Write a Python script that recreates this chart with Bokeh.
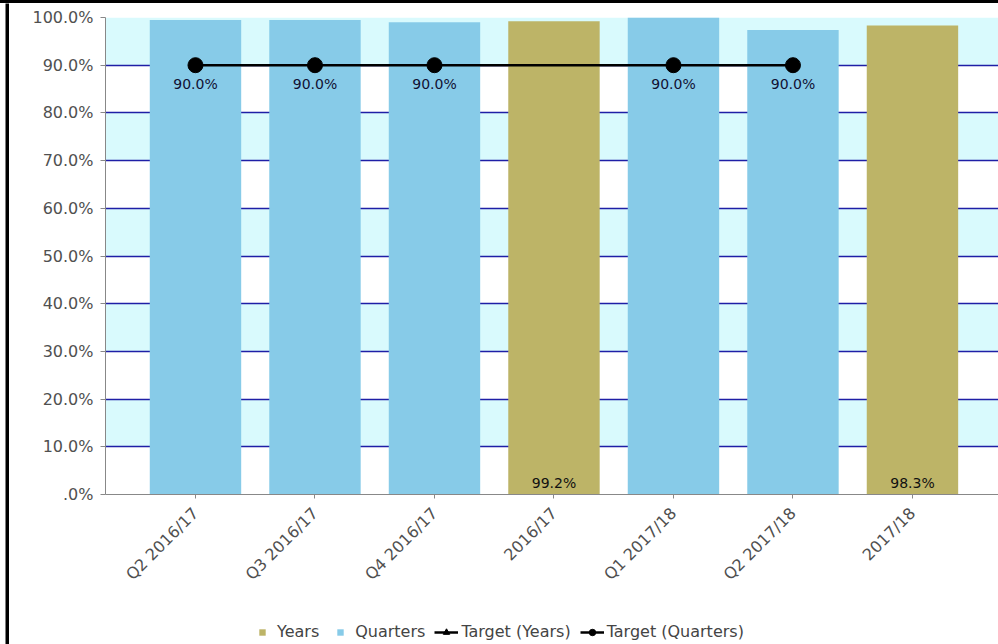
import numpy as np
from bokeh.plotting import figure
from bokeh.layouts import column, row
from bokeh.models import (ColumnDataSource, Range1d, FixedTicker, Legend, LegendItem, Spacer)
from bokeh.core.properties import value
from bokeh.embed import file_html
from bokeh.resources import INLINE

# ---------------- data ----------------
categories = ["Q2 2016/17", "Q3 2016/17", "Q4 2016/17", "2016/17",
              "Q1 2017/18", "Q2 2017/18", "2017/18"]
kinds = ["Quarters", "Quarters", "Quarters", "Years", "Quarters", "Quarters", "Years"]
values = [99.5, 99.5, 99.0, 99.2, 100.0, 97.4, 98.3]
targets = [90.0, 90.0, 90.0, None, 90.0, 90.0, None]
y_ticks = [0, 10, 20, 30, 40, 50, 60, 70, 80, 90, 100]
y_tick_labels = [".0%", "10.0%", "20.0%", "30.0%", "40.0%", "50.0%",
                 "60.0%", "70.0%", "80.0%", "90.0%", "100.0%"]
legend_labels = ["Years", "Quarters", "Target (Years)", "Target (Quarters)"]

COL_Q = "#87CBE8"
COL_Y = "#BDB467"
FONT = "DejaVu Sans"

xs = list(range(len(categories)))
q_idx = [i for i, k in enumerate(kinds) if k == "Quarters"]
y_idx = [i for i, k in enumerate(kinds) if k == "Years"]

src_q = ColumnDataSource(dict(x=[xs[i] for i in q_idx], top=[values[i] for i in q_idx]))
src_y = ColumnDataSource(dict(x=[xs[i] for i in y_idx], top=[values[i] for i in y_idx],
                              lab=["%.1f%%" % values[i] for i in y_idx],
                              base=[0] * len(y_idx)))
t_idx = [i for i, t in enumerate(targets) if t is not None]
src_t = ColumnDataSource(dict(x=[xs[i] for i in t_idx], y=[targets[i] for i in t_idx],
                              lab=["%.1f%%" % targets[i] for i in t_idx]))


def plain(w, h, color):
    f = figure(width=w, height=h, output_backend="svg", toolbar_location=None,
               x_axis_location=None, y_axis_location=None,
               min_border=0, x_range=Range1d(0, 1), y_range=Range1d(0, 1))
    f.grid.visible = False
    f.outline_line_color = None
    f.background_fill_color = color
    f.border_fill_color = color
    return f


# ---------------- main chart ----------------
p = figure(width=989, height=602, output_backend="svg", toolbar_location=None,
           x_range=Range1d(-0.753, 6.72), y_range=Range1d(0, 100),
           min_border_left=96, min_border_right=0, min_border_top=14,
           min_border_bottom=111)
p.outline_line_color = None
p.background_fill_color = "white"
p.border_fill_color = "white"

p.xgrid.grid_line_color = None
p.ygrid.ticker = FixedTicker(ticks=y_ticks)
p.ygrid.grid_line_color = "#1F1FA6"
p.ygrid.grid_line_width = 1.5
p.ygrid.band_fill_color = "#D9FAFD"
p.ygrid.band_fill_alpha = 1.0

p.vbar(x="x", top="top", width=0.765, source=src_q, fill_color=COL_Q, line_color=None)
p.vbar(x="x", top="top", width=0.765, source=src_y, fill_color=COL_Y, line_color=None)

p.line(x="x", y="y", source=src_t, line_color="black", line_width=2.5)
p.scatter(x="x", y="y", source=src_t, size=15, marker="circle",
          fill_color="black", line_color="black")
p.text(x="x", y="y", text="lab", source=src_t, text_align="center", text_baseline="middle",
       y_offset=19, text_font=value(FONT), text_font_size="14px", text_color="#111133")
p.text(x="x", y="base", text="lab", source=src_y, text_align="center", text_baseline="middle",
       y_offset=-12, text_font=value(FONT), text_font_size="14px", text_color="#111111")

p.yaxis.ticker = FixedTicker(ticks=y_ticks)
p.yaxis.major_label_overrides = {t: l for t, l in zip(y_ticks, y_tick_labels)}
p.yaxis.major_label_text_font = FONT
p.yaxis.major_label_text_font_size = "16px"
p.yaxis.major_label_text_color = "#505050"
p.yaxis.axis_line_color = "#888888"
p.yaxis.major_tick_line_color = "#888888"
p.yaxis.major_tick_out = 5
p.yaxis.major_tick_in = 0
p.yaxis.minor_tick_line_color = None
p.yaxis.major_label_standoff = 7

p.xaxis.ticker = FixedTicker(ticks=xs)
p.xaxis.major_label_overrides = {x: c for x, c in zip(xs, categories)}
p.xaxis.major_label_orientation = np.pi / 4
p.xaxis.major_label_text_font = FONT
p.xaxis.major_label_text_font_size = "16px"
p.xaxis.major_label_text_color = "#505050"
p.xaxis.axis_line_color = "#888888"
p.xaxis.major_tick_line_color = "#888888"
p.xaxis.major_tick_out = 4
p.xaxis.major_tick_in = 0
p.xaxis.minor_tick_line_color = None
p.xaxis.major_label_standoff = 12

# ---------------- legend strip ----------------
lg = plain(989, 39, "white")


def proxy():
    return ColumnDataSource(dict(x=[np.nan], y=[np.nan]))


r_ly = lg.scatter(x="x", y="y", source=proxy(), marker="square", size=11,
                  fill_color=COL_Y, line_color=None)
r_lq = lg.scatter(x="x", y="y", source=proxy(), marker="square", size=11,
                  fill_color=COL_Q, line_color=None)
r_tyl = lg.line(x="x", y="y", source=proxy(), line_color="black", line_width=2.5)
r_tym = lg.scatter(x="x", y="y", source=proxy(), marker="triangle", size=14,
                   fill_color="black", line_color="black")
r_tql = lg.line(x="x", y="y", source=proxy(), line_color="black", line_width=2.5)
r_tqm = lg.scatter(x="x", y="y", source=proxy(), marker="circle", size=14,
                   fill_color="black", line_color="black")

legend = Legend(items=[
    LegendItem(label=legend_labels[0], renderers=[r_ly]),
    LegendItem(label=legend_labels[1], renderers=[r_lq]),
    LegendItem(label=legend_labels[2], renderers=[r_tyl, r_tym]),
    LegendItem(label=legend_labels[3], renderers=[r_tql, r_tqm]),
], orientation="horizontal", location=(145, 3))
legend.label_text_font = FONT
legend.label_text_font_size = "16px"
legend.label_text_color = "#444444"
legend.glyph_width = 24
legend.glyph_height = 16
legend.spacing = 9
legend.label_standoff = 3
legend.padding = 2
legend.margin = 0
legend.border_line_color = None
legend.background_fill_alpha = 0
lg.add_layout(legend, "center")

# ---------------- frame (black border) ----------------
top_strip = Spacer(width=998, height=3, styles={"background-color": "black"})
left_gap = plain(5, 641, "white")
left_strip = plain(4, 641, "black")

layout = column(top_strip,
                row(left_gap, left_strip, column(p, lg, spacing=0), spacing=0),
                spacing=0)

open("out.html", "w").write(file_html(layout, INLINE))
